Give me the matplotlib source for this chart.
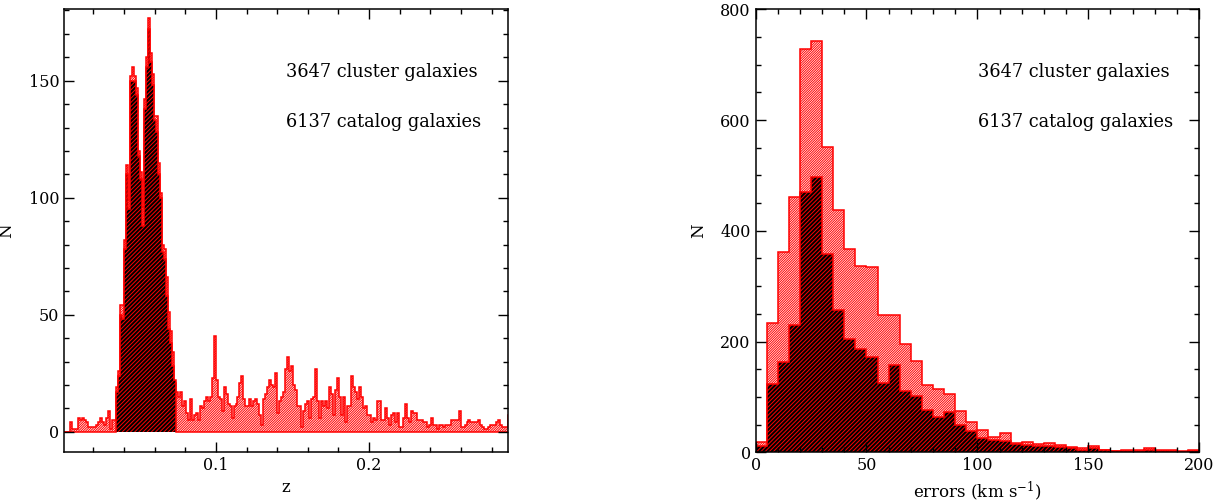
import numpy as np
import matplotlib
matplotlib.use('Agg')
import matplotlib.pyplot as plt
from matplotlib.ticker import MultipleLocator

plt.rcParams['font.family'] = 'DejaVu Serif'
plt.rcParams['mathtext.fontset'] = 'dejavuserif'
plt.rcParams['hatch.linewidth'] = 0.7

# redshift histogram, bin width 0.0013 starting at z = 0.001
z_start = 0.001
z_width = 0.0013
z_catalog = [0, 0, 0, 4, 1, 1, 1, 6, 5, 6, 5, 4, 2, 2, 2, 2, 3, 4, 6, 4,
             3, 6, 9, 1, 5, 5, 19, 26, 54, 54, 82, 114, 99, 152, 156, 152, 147, 120, 111, 96,
             142, 160, 177, 162, 153, 135, 135, 115, 102, 80, 78, 66, 51, 43, 34, 21, 17, 15, 17, 11,
             13, 8, 5, 14, 5, 7, 8, 5, 11, 10, 13, 15, 13, 15,
             23, 41, 22, 15, 14, 9, 19, 16, 12, 11, 6, 11, 12, 15, 21, 24, 14, 11, 11, 14,
             11, 13, 14, 12, 7, 3, 14, 16, 19, 22, 20, 19, 25, 8, 13, 15, 17, 27, 32, 26,
             28, 20, 18, 11, 11, 2, 9, 12, 13, 6, 14, 15, 27, 13, 6, 13, 11, 13, 10, 19,
             16, 7, 18, 23, 15, 7, 15, 4, 11, 11, 24, 19, 17, 14,
             19, 15, 10, 11, 7, 7, 4, 6, 5, 13, 13, 5, 5, 10, 6, 3, 7, 8, 4, 8,
             2, 2, 6, 12, 6, 4, 9, 8, 8, 5, 5, 5, 4, 4, 2, 3, 6, 3, 3, 1,
             3, 3, 2, 3, 3, 3, 5, 5, 5, 5, 9, 2, 2, 3, 4, 5, 4, 4, 4, 4,
             5, 3, 2, 1, 1, 2, 3, 3, 3, 4, 5, 3, 2, 2, 2, 7]
# cluster members only occupy bins 26..55
cluster_first_bin = 26
z_cluster_peak = [17, 24, 50, 48, 78, 110, 95, 150, 150, 150, 144, 118, 108, 88, 138, 156,
                  172, 158, 148, 133, 128, 110, 100, 77, 74, 58, 44, 38, 28, 22]

# velocity error histogram, bins of 5 km/s from 0 to 200
err_edges = np.arange(0, 205, 5)
err_catalog = [18, 233, 361, 461, 728, 743, 551, 438, 368, 337,
               334, 248, 248, 195, 165, 122, 114, 105, 75, 55,
               40, 28, 34, 16, 19, 15, 16, 13, 9, 8,
               11, 5, 2, 5, 5, 7, 5, 5, 2, 5]
err_cluster = [12, 123, 163, 229, 470, 498, 359, 257, 204, 187,
               172, 126, 157, 110, 101, 76, 63, 73, 49, 39,
               25, 22, 21, 15, 14, 11, 11, 9, 7, 5,
               7, 4, 2, 3, 2, 4, 3, 3, 1, 2]

label1 = '3647 cluster galaxies'
label2 = '6137 catalog galaxies'

z_edges = z_start + z_width * np.arange(len(z_catalog) + 1)
z_cluster = np.zeros(len(z_catalog))
z_cluster[cluster_first_bin:cluster_first_bin + len(z_cluster_peak)] = z_cluster_peak

fig = plt.figure(figsize=(12.19, 5.04), dpi=100)
ax1 = fig.add_axes([0.0527, 0.1038, 0.3638, 0.8777])
ax2 = fig.add_axes([0.6199, 0.1026, 0.3637, 0.8789])

HATCH_LIGHT = '//////////////'
HATCH_DARK = '////////'
TXT = 12.8


def style_axes(ax):
    ax.tick_params(which='both', direction='in', top=True, right=True, labelsize=11.5, width=1.0)
    ax.tick_params(which='major', length=7)
    ax.tick_params(which='minor', length=3.5)
    for s in ax.spines.values():
        s.set_linewidth(1.1)


def draw_pair(ax, cat, clu, edges):
    ax.stairs(cat, edges, fill=True, facecolor='white', edgecolor='red',
              hatch=HATCH_LIGHT, linewidth=1.1)
    ax.stairs(clu, edges, fill=True, facecolor='black', edgecolor='red',
              hatch=HATCH_DARK, linewidth=1.1)


# left: redshift
draw_pair(ax1, z_catalog, z_cluster, z_edges)
ax1.set_xlim(0.001, 0.2905)
ax1.set_ylim(-8.5, 180.5)
ax1.xaxis.set_major_locator(MultipleLocator(0.1))
ax1.xaxis.set_minor_locator(MultipleLocator(0.02))
ax1.yaxis.set_major_locator(MultipleLocator(50))
ax1.yaxis.set_minor_locator(MultipleLocator(10))
ax1.set_xlabel('z', fontsize=12)
ax1.set_ylabel('N', fontsize=12)
ax1.yaxis.set_label_coords(-0.11, 0.5)
style_axes(ax1)
ax1.text(0.5, 0.859, label1, transform=ax1.transAxes, fontsize=TXT, va='center')
ax1.text(0.5, 0.746, label2, transform=ax1.transAxes, fontsize=TXT, va='center')

# right: velocity errors
draw_pair(ax2, err_catalog, err_cluster, err_edges)
ax2.set_xlim(0, 200)
ax2.set_ylim(0, 800)
ax2.xaxis.set_major_locator(MultipleLocator(50))
ax2.xaxis.set_minor_locator(MultipleLocator(10))
ax2.yaxis.set_major_locator(MultipleLocator(200))
ax2.yaxis.set_minor_locator(MultipleLocator(50))
ax2.set_xlabel('errors (km s$^{-1}$)', fontsize=12)
ax2.set_ylabel('N', fontsize=12)
ax2.yaxis.set_label_coords(-0.11, 0.5)
style_axes(ax2)
ax2.text(0.5015, 0.859, label1, transform=ax2.transAxes, fontsize=TXT, va='center')
ax2.text(0.5015, 0.746, label2, transform=ax2.transAxes, fontsize=TXT, va='center')

fig.savefig('out.png', dpi=100)
